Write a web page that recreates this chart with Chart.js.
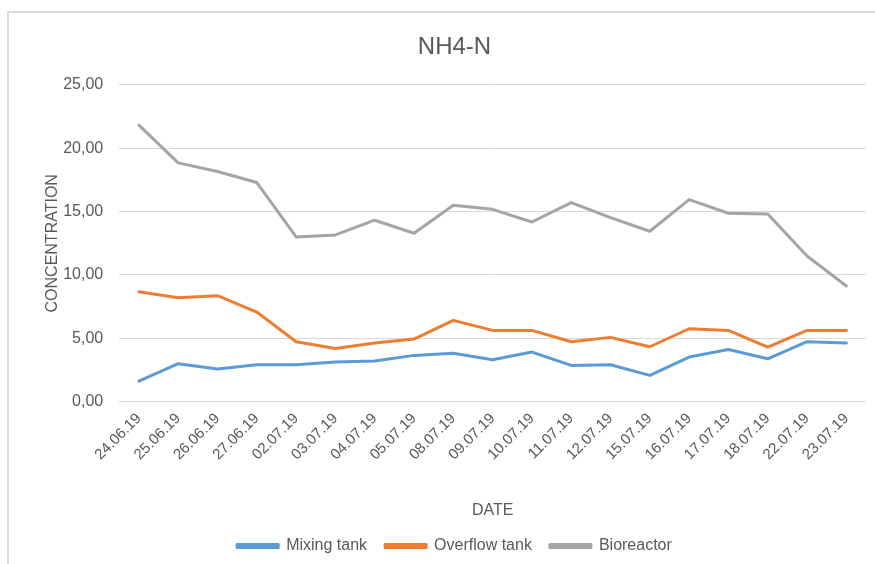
<!DOCTYPE html>
<html>
<head>
<meta charset="utf-8">
<script src="https://cdn.jsdelivr.net/npm/chart.js@4"></script>
<style>
  html, body { margin: 0; padding: 0; background: #fff; overflow: hidden; }
  #frame {
    position: absolute; left: 7px; top: 11px;
    width: 900px; height: 600px;
    border: 2px solid #dadada; box-sizing: border-box;
  }
  #grafico { position: absolute; left: 0; top: 0; display: block; }
</style>
</head>
<body>
<div id="frame"><canvas id="grafico" width="866" height="551"></canvas></div>
<script>
// dados
const datas = ['24.06.19', '25.06.19', '26.06.19', '27.06.19', '02.07.19', '03.07.19', '04.07.19',
  '05.07.19', '08.07.19', '09.07.19', '10.07.19', '11.07.19', '12.07.19', '15.07.19',
  '16.07.19', '17.07.19', '18.07.19', '22.07.19', '23.07.19'];
const mixingTank = [1.63, 3.00, 2.58, 2.92, 2.92, 3.13, 3.21, 3.66, 3.82, 3.32, 3.92, 2.87, 2.92, 2.08, 3.53, 4.13, 3.39, 4.74, 4.63];
const overflowTank = [8.68, 8.21, 8.37, 7.08, 4.74, 4.21, 4.63, 4.95, 6.42, 5.63, 5.63, 4.74, 5.08, 4.34, 5.76, 5.63, 4.32, 5.63, 5.63];
const bioreactor = [21.82, 18.84, 18.16, 17.29, 13.00, 13.16, 14.32, 13.29, 15.50, 15.18, 14.18, 15.71, 14.52, 13.45, 15.95, 14.87, 14.81, 11.50, 9.13];
const yTicks = [0, 5, 10, 15, 20, 25];

const cinza = '#595959';
const fonte = "'Liberation Sans', Arial, sans-serif";

const ctx = document.getElementById('grafico');

function serie(label, data, cor) {
  return {
    label, data,
    borderColor: cor,
    backgroundColor: cor,
    borderWidth: 3,
    borderCapStyle: 'round',
    borderJoinStyle: 'round',
    pointRadius: 0,
    tension: 0,
    fill: false
  };
}

new Chart(ctx, {
  type: 'line',
  data: {
    labels: datas,
    datasets: [
      serie('Mixing tank', mixingTank, '#5B9BD5'),
      serie('Overflow tank', overflowTank, '#ED7D31'),
      serie('Bioreactor', bioreactor, '#A5A5A5')
    ]
  },
  options: {
    responsive: false,
    animation: false,
    layout: { padding: { left: 34, right: 9, top: 20, bottom: 0 } },
    plugins: {
      title: {
        display: true, text: 'NH4-N', color: cinza,
        font: { family: fonte, size: 24, weight: 'normal' },
        padding: { top: 0, bottom: 23 }
      },
      legend: {
        position: 'bottom',
        labels: {
          color: cinza, boxWidth: 41, boxHeight: 3, padding: 18,
          font: { family: fonte, size: 16 }
        }
      },
      tooltip: { enabled: false }
    },
    scales: {
      x: {
        offset: true,
        grid: { display: false, drawTicks: false },
        border: { display: false },
        ticks: {
          color: cinza, minRotation: 45, maxRotation: 45, padding: 8, autoSkip: false,
          font: { family: fonte, size: 15 }
        },
        title: {
          display: true, text: 'DATE', color: cinza,
          font: { family: fonte, size: 16 }, padding: { top: 29, bottom: 0 }
        }
      },
      y: {
        min: 0, max: 25,
        afterBuildTicks: axis => { axis.ticks = yTicks.map(v => ({ value: v })); },
        grid: { color: '#d9d9d9', drawTicks: false },
        border: { display: false },
        ticks: {
          color: cinza, padding: 16,
          font: { family: fonte, size: 16 },
          callback: v => v.toFixed(2).replace('.', ',')
        },
        title: {
          display: true, text: 'CONCENTRATION', color: cinza,
          font: { family: fonte, size: 16 }, padding: { top: 0, bottom: -15 }
        }
      }
    }
  }
});
</script>
</body>
</html>
